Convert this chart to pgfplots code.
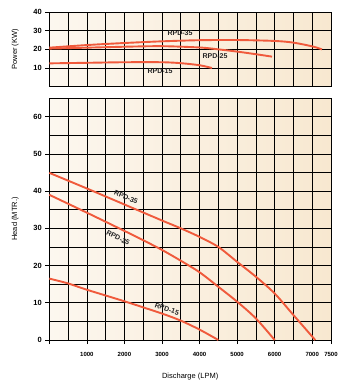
\documentclass[border=0pt]{standalone}
\usepackage{pgfplots}
\pgfplotsset{compat=1.18}
\usepackage{fontspec}
\setmainfont{Liberation Sans}
\definecolor{bgL}{HTML}{FCF7EF}
\definecolor{bgR}{HTML}{F8E8D0}
\definecolor{curve}{HTML}{F05A3C}
\pgfplotsset{
  common/.style={
    scale only axis, width=281.7pt,
    xmin=0, xmax=7500,
    axis background/.style={left color=bgL, right color=bgR},
    grid=both,
    major grid style={black, line width=0.7pt},
    minor grid style={black, line width=0.7pt},
    axis line style={black, line width=0.7pt},
    tick style={black, line width=0.7pt},
    minor tick length=0pt,
    major tick length=4pt,
    tick align=outside,
    xtick pos=bottom, ytick pos=left,
    /pgf/number format/assume math mode=true,
    tick label style={font=\fontsize{7.5}{8}\selectfont\bfseries},
    label style={font=\fontsize{7.5}{8}\selectfont},
    ylabel style={at={(axis description cs:-0.121,0.5)}, anchor=center, rotate=0},
    every axis plot post/.append style={color=curve, line width=1.9pt, smooth, mark=none},
  }
}
\begin{document}
\begin{tikzpicture}
\useasboundingbox (0,0) rectangle (350pt,-386pt);
% Power axis
\begin{axis}[common, at={(49.3pt,-86.7pt)}, anchor=south west,
  height=74.7pt, ymin=0, ymax=40,
  ytick={10,20,30,40}, xtick={0,1000,...,7000,7500}, minor xtick={500,1500,...,6500},
  xticklabels={}, major x tick style={draw=none},
  ylabel={Power (KW)},
  clip=false]
\addplot coordinates {(0,20.9) (1000,22.3) (2000,23.4) (3000,24.3) (4000,24.9) (5000,25.0) (6000,24.5) (6500,23.6) (7000,21.6) (7260,20.0)};
\addplot coordinates {(0,20.4) (1000,20.9) (2000,21.4) (3000,21.7) (4000,21.0) (4500,20.0) (5000,18.8) (5500,17.4) (5930,16.1)};
\addplot coordinates {(0,12.5) (1000,12.8) (2000,13.1) (3000,13.1) (3500,12.6) (4000,11.5) (4330,10.0)};
\node[font=\fontsize{7}{8}\selectfont\bfseries, text=black!85] at (axis cs:3480,28.8) {RPD-35};
\node[font=\fontsize{7}{8}\selectfont\bfseries, text=black!85] at (axis cs:4412,16.4) {RPD-25};
\node[font=\fontsize{7}{8}\selectfont\bfseries, text=black!85] at (axis cs:2947,8.4) {RPD-15};
\end{axis}
% Head axis
\begin{axis}[common, at={(49.3pt,-340pt)}, anchor=south west,
  height=242pt, ymin=0, ymax=65,
  ytick={0,10,...,60}, minor ytick={5,15,...,65},
  xtick={0,1000,...,7000,7500}, minor xtick={500,1500,...,6500},
  xticklabels={,1000,2000,3000,4000,5000,6000,7000,7500},
  xticklabel style={font=\fontsize{6}{7}\selectfont\bfseries, yshift=-5pt},
  ylabel={Head (MTR.)},
  xlabel={Discharge (LPM)}, xlabel style={yshift=-9pt},
  clip=false]
\addplot coordinates {(0,44.9) (1000,40.7) (2000,36.4) (3000,32.1) (3500,30.0) (4000,27.7) (4500,25.0) (5000,21.0) (5500,17.0) (6000,12.5) (6500,6.7) (7080,0)};
\addplot coordinates {(0,39.0) (1000,34.2) (2000,29.3) (2500,26.8) (3000,24.2) (3500,21.3) (4000,18.2) (4500,14.3) (5000,10.3) (5500,5.8) (6000,0)};
\addplot coordinates {(0,16.5) (500,15.2) (1000,13.5) (2000,10.4) (3000,7.1) (3500,5.2) (4000,2.8) (4500,0)};
\node[font=\fontsize{7}{8}\selectfont\bfseries, text=black!85, rotate=-23] at (axis cs:2042,38.4) {RPD-35};
\node[font=\fontsize{7}{8}\selectfont\bfseries, text=black!85, rotate=-26] at (axis cs:1829,27.4) {RPD-25};
\node[font=\fontsize{7}{8}\selectfont\bfseries, text=black!85, rotate=-19] at (axis cs:3134,8.3) {RPD-15};
\end{axis}
\end{tikzpicture}
\end{document}
